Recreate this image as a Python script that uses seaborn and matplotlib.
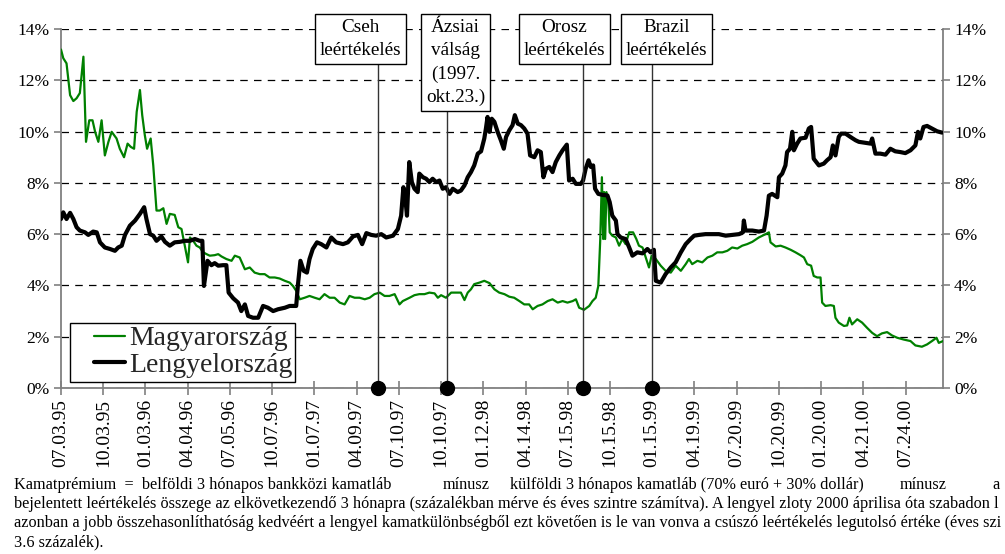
import matplotlib
matplotlib.use("Agg")
import matplotlib.pyplot as plt
from matplotlib.lines import Line2D
from matplotlib.legend_handler import HandlerLine2D
import seaborn as sns
import pandas as pd

# ---------------- data ----------------
tick_labels = ["07.03.95", "10.03.95", "01.03.96", "04.04.96", "07.05.96", "10.07.96",
               "01.07.97", "04.09.97", "07.10.97", "10.10.97", "01.12.98", "04.14.98",
               "07.15.98", "10.15.98", "01.15.99", "04.19.99", "07.20.99", "10.20.99",
               "01.20.00", "04.21.00", "07.24.00"]
weeks_per_tick = 13
last_week = 271.5

# Hungary (weeks since 07.03.95, % premium)
hu_week = [0, 0.7, 1.7, 2.8, 3.8, 4.8, 5.8, 6.9, 7.7, 8.7, 9.7, 10.5, 11.5, 12.5, 13.5, 14.6,
           15.6, 17.1, 18.1, 19.4, 20.5, 21.5, 22.5, 23.3, 24.3, 25.0, 25.8, 26.5, 27.6, 28.4,
           29.4, 30.4, 31.5, 32.5, 33.5, 35.0, 36.1, 37.1, 38.1, 39.1, 39.7, 40.7, 41.7, 42.7,
           43.8, 44.8, 45.8, 47.3, 48.4, 49.4, 50.9, 52.5, 53.5, 55.0, 56.6, 58.1, 59.6, 61.2,
           62.7, 64.2, 65.8, 67.3, 68.9, 70.4, 71.4, 72.4, 73.5, 75.0, 76.5, 78.1, 79.6, 81.1,
           82.7, 84.2, 85.8, 87.3, 88.8, 90.4, 91.9, 93.5, 95.0, 96.5, 98.1, 99.6, 101.1, 102.7,
           104.2, 105.2, 107.3, 108.8, 110.3, 111.9, 113.4, 115.0, 116.0, 117.0, 118.5, 120.1,
           121.6, 123.1, 124.2, 125.2, 126.2, 127.2, 128.8, 130.3, 131.9, 133.4, 134.9, 136.5,
           138.0, 139.5, 141.1, 142.6, 144.1, 145.2, 146.7, 148.2, 149.8, 151.3, 152.9, 154.4,
           155.9, 157.5, 158.5, 159.5, 161.0, 162.6, 163.6, 164.6, 165.4, 166.0, 166.5, 166.9,
           167.2, 167.5, 167.9, 168.5, 168.9, 169.7, 170.8, 171.8, 172.8, 173.8, 174.9, 176.1,
           177.1, 177.9, 179.0, 180.0, 181.0, 181.8, 183.1, 184.6, 186.1, 187.7, 189.2, 190.8,
           192.3, 193.3, 194.3, 195.9, 197.4, 199.0, 200.5, 202.0, 203.6, 205.1, 206.6, 208.2,
           209.7, 211.2, 212.8, 214.8, 216.9, 217.9, 218.4, 220.0, 221.5, 223.0, 224.6, 226.1,
           227.6, 228.7, 229.7, 230.9, 231.7, 232.8, 233.8, 234.3, 235.3, 236.9, 237.9, 238.4,
           239.4, 241.0, 242.0, 242.7, 243.5, 245.1, 246.6, 248.1, 249.7, 251.2, 252.7, 254.3,
           255.8, 257.4, 259.4, 261.5, 263.0, 265.0, 266.6, 268.1, 269.5, 270.2, 271.5]
hu_value = [13.2, 12.86, 12.66, 11.42, 11.19, 11.3, 11.5, 12.92, 9.6, 10.44, 10.44, 9.99, 9.6,
            10.44, 9.07, 9.6, 9.99, 9.73, 9.33, 9.0, 9.53, 9.4, 9.33, 10.77, 11.62, 10.64, 9.86,
            9.33, 9.73, 8.68, 6.92, 6.92, 7.01, 6.4, 6.79, 6.75, 6.27, 6.2, 5.55, 4.9, 5.87, 5.74,
            5.55, 5.48, 5.29, 5.22, 5.16, 5.18, 5.22, 5.13, 5.03, 4.96, 5.16, 5.09, 4.63, 4.70,
            4.50, 4.44, 4.44, 4.31, 4.31, 4.27, 4.18, 4.11, 3.98, 3.79, 3.46, 3.52, 3.59, 3.52,
            3.46, 3.66, 3.52, 3.52, 3.33, 3.26, 3.59, 3.52, 3.52, 3.46, 3.52, 3.66, 3.72, 3.59,
            3.59, 3.66, 3.26, 3.39, 3.52, 3.62, 3.66, 3.66, 3.72, 3.69, 3.52, 3.62, 3.52, 3.72,
            3.72, 3.72, 3.43, 3.72, 3.85, 4.05, 4.11, 4.18, 4.09, 3.85, 3.72, 3.66, 3.56, 3.52,
            3.39, 3.26, 3.26, 3.07, 3.2, 3.26, 3.39, 3.46, 3.33, 3.39, 3.33, 3.39, 3.46, 3.13,
            3.05, 3.2, 3.39, 3.52, 3.98, 5.81, 8.22, 5.81, 7.64, 5.81, 7.64, 7.25, 6.07, 5.94,
            5.87, 5.55, 5.81, 5.61, 6.07, 6.07, 5.81, 5.55, 5.48, 5.09, 4.70, 5.16, 5.03, 4.77,
            4.57, 4.50, 4.77, 4.57, 4.83, 5.03, 4.83, 4.96, 4.90, 5.09, 5.16, 5.29, 5.29, 5.35,
            5.48, 5.44, 5.55, 5.61, 5.70, 5.87, 6.0, 6.07, 5.68, 5.52, 5.55, 5.48, 5.39, 5.29,
            5.18, 5.09, 4.83, 4.77, 4.37, 4.31, 4.31, 3.33, 3.2, 3.23, 3.2, 2.74, 2.55, 2.42,
            2.44, 2.74, 2.48, 2.68, 2.55, 2.35, 2.15, 2.02, 2.13, 2.18, 2.05, 1.96, 1.89, 1.83,
            1.66, 1.61, 1.70, 1.83, 1.96, 1.76, 1.83]

# Poland
pl_week = [0, 0.7, 1.7, 2.8, 3.8, 4.8, 5.8, 7.4, 8.4, 9.9, 11.0, 12.0, 13.5, 15.1, 16.6, 17.6,
           18.7, 19.7, 21.2, 22.8, 24.3, 25.6, 26.3, 27.4, 28.4, 29.4, 30.9, 32.0, 33.5, 35.0,
           36.6, 38.1, 39.7, 41.2, 42.7, 43.5, 44.0, 45.1, 46.3, 47.3, 48.4, 49.9, 50.9, 51.6,
           53.0, 54.5, 55.5, 56.6, 57.6, 59.1, 60.7, 62.2, 63.7, 65.3, 66.8, 68.9, 70.4, 72.4,
           72.9, 73.7, 74.7, 75.7, 76.5, 77.5, 78.8, 80.1, 81.7, 83.2, 84.7, 86.8, 88.3, 89.9,
           91.4, 92.7, 94.0, 95.5, 97.0, 98.6, 100.1, 102.2, 103.7, 104.7, 105.4, 106.0, 106.5,
           107.2, 108.0, 108.8, 109.8, 110.3, 111.4, 112.4, 113.4, 114.4, 115.5, 116.5, 117.5,
           118.5, 119.6, 120.6, 122.1, 123.1, 124.2, 125.2, 126.2, 127.2, 128.3, 129.3, 130.3,
           130.8, 131.3, 131.9, 132.6, 133.4, 134.4, 135.4, 136.3, 137.0, 138.0, 139.0, 139.7,
           140.6, 141.6, 142.6, 143.6, 144.4, 145.7, 146.7, 147.7, 148.5, 149.3, 150.3, 151.3,
           152.3, 153.4, 154.4, 155.7, 156.4, 157.5, 158.5, 160.0, 160.7, 161.5, 162.4, 163.1,
           163.8, 164.4, 165.4, 166.7, 168.2, 168.9, 169.7, 170.8, 171.3, 172.3, 173.8, 174.9,
           175.9, 177.4, 179.0, 180.5, 181.5, 182.5, 183.1, 184.6, 186.1, 187.7, 189.2, 190.8,
           192.3, 193.8, 194.9, 196.4, 198.4, 200.5, 202.5, 204.6, 206.6, 208.7, 209.9, 210.2,
           210.7, 212.8, 214.8, 216.4, 217.2, 217.9, 218.9, 220.5, 221.0, 222.0, 223.0, 223.5,
           224.4, 225.1, 225.6, 226.6, 227.6, 229.2, 230.2, 230.9, 231.7, 233.3, 234.8, 235.8,
           236.9, 237.6, 238.4, 239.4, 240.1, 241.5, 243.0, 244.6, 245.6, 247.1, 249.2, 249.7,
           250.7, 252.2, 253.8, 255.3, 256.8, 258.4, 259.9, 261.5, 263.0, 263.8, 264.5, 265.5,
           266.6, 268.1, 269.7, 271.2]
pl_value = [6.59, 6.85, 6.59, 6.83, 6.59, 6.27, 6.14, 6.07, 5.97, 6.10, 6.07, 5.68, 5.48, 5.42,
            5.35, 5.48, 5.55, 5.97, 6.33, 6.53, 6.79, 7.05, 6.59, 6.0, 5.94, 5.74, 5.91, 5.70,
            5.55, 5.68, 5.70, 5.74, 5.74, 5.81, 5.74, 5.74, 3.98, 4.96, 4.79, 4.87, 4.77, 4.79,
            4.79, 3.72, 3.5, 3.33, 3.0, 3.26, 2.81, 2.74, 2.74, 3.2, 3.13, 3.0, 3.07, 3.13, 3.2,
            3.2, 3.98, 4.96, 4.57, 4.5, 5.03, 5.42, 5.68, 5.61, 5.48, 5.87, 5.68, 5.61, 5.68,
            5.91, 5.97, 5.61, 6.04, 5.97, 5.94, 6.0, 5.87, 5.94, 6.2, 6.72, 7.83, 7.38, 6.72,
            8.81, 8.03, 7.77, 7.64, 8.36, 8.22, 8.16, 8.03, 8.16, 8.03, 8.09, 7.77, 7.83, 7.57,
            7.77, 7.64, 7.70, 7.9, 8.22, 8.42, 8.68, 9.14, 9.23, 9.73, 10.12, 10.57, 9.99, 10.5,
            10.38, 9.99, 9.66, 9.33, 9.79, 10.05, 10.25, 10.64, 10.31, 10.25, 10.12, 9.92, 9.07,
            9.0, 9.27, 9.2, 8.22, 8.55, 8.62, 8.42, 8.81, 9.07, 9.27, 9.49, 8.09, 8.16, 7.96,
            7.96, 8.09, 8.55, 8.88, 8.62, 8.68, 7.77, 7.57, 7.53, 7.51, 7.25, 6.72, 6.53, 6.0,
            5.87, 5.81, 5.48, 5.16, 5.29, 5.25, 5.42, 5.29, 5.39, 4.18, 4.11, 4.44, 4.70, 4.90,
            5.29, 5.61, 5.81, 5.94, 5.97, 6.0, 6.0, 6.0, 5.94, 5.97, 6.0, 6.07, 6.53, 6.14,
            6.14, 6.10, 6.14, 6.72, 7.5, 7.57, 7.44, 8.22, 8.36, 8.68, 9.2, 9.33, 9.99, 9.27,
            9.53, 9.73, 9.76, 10.12, 10.18, 8.94, 8.68, 8.75, 8.88, 9.0, 9.46, 9.07, 9.79, 9.92,
            9.92, 9.79, 9.66, 9.6, 9.57, 9.53, 9.73, 9.14, 9.14, 9.1, 9.33, 9.23, 9.2, 9.16,
            9.27, 9.46, 9.99, 9.73, 10.18, 10.22, 10.12, 10.01, 9.96]

series_names = ["Magyarország", "Lengyelország"]

event_labels = ["Cseh\nleértékelés", "Ázsiai\nválság\n(1997.\nokt.23.)",
                "Orosz\nleértékelés", "Brazil\nleértékelés"]
event_week = [97.7, 118.9, 160.7, 181.8]
event_box_offset = [-5.6, 2.5, -5.8, 4.6]   # label box centre relative to event (weeks)

note_line1 = ["Kamatprémium  =  belföldi 3 hónapos bankközi kamatláb", "mínusz",
              "külföldi 3 hónapos kamatláb (70% euró + 30% dollár)", "mínusz", "a"]
note_line1_x = [14, 443, 510, 900, 992]
note_lines = [
    "bejelentett leértékelés összege az elkövetkezendő 3 hónapra (százalékban mérve és éves szintre számítva). A lengyel zloty 2000 áprilisa óta szabadon l",
    "azonban a jobb összehasonlíthatóság kedvéért a lengyel kamatkülönbségből ezt követően is le van vonva a csúszó leértékelés legutolsó értéke (éves szi",
    "3.6 százalék).",
]

# ---------------- style ----------------
sns.set_theme(style="white")
plt.rcParams["font.family"] = ["Liberation Serif", "DejaVu Serif"]

W, H = 1005, 554
fig = plt.figure(figsize=(W / 100, H / 100), dpi=100)
ax = fig.add_axes([61 / W, 1 - 388 / H, 882 / W, 359 / H])

green = "#008000"
hu_df = pd.DataFrame({"week": hu_week, "value": hu_value})
pl_df = pd.DataFrame({"week": pl_week, "value": pl_value})
sns.lineplot(data=hu_df, x="week", y="value", ax=ax, color=green, linewidth=1.6,
             estimator=None, sort=False, zorder=3)
sns.lineplot(data=pl_df, x="week", y="value", ax=ax, color="black", linewidth=3.0,
             estimator=None, sort=False, zorder=4)

ax.set_xlim(0, last_week)
ax.set_ylim(0, 14)
ax.set_xlabel("")
ax.set_ylabel("")

# grid
ax.set_yticks(range(0, 15, 2))
ax.set_yticklabels([f"{v}%" for v in range(0, 15, 2)])
ax.yaxis.grid(True, color="black", linestyle=(0, (6, 5)), linewidth=0.9)
ax.xaxis.grid(False)
ax.set_axisbelow(True)

ax.set_xticks([i * weeks_per_tick for i in range(len(tick_labels))])
ax.set_xticklabels(tick_labels, rotation=90, ha="center", va="top")

for s in ["left", "right", "bottom"]:
    ax.spines[s].set_visible(True)
    ax.spines[s].set_color("#808080")
    ax.spines[s].set_linewidth(1.3)
ax.spines["top"].set_visible(False)

ax.tick_params(axis="y", which="both", left=True, right=True, labelleft=True,
               labelright=True, direction="out", length=5, width=1.2, color="#808080",
               labelsize=12.5, pad=3, labelcolor="black")
ax.tick_params(axis="x", bottom=True, direction="inout", length=10, width=1.2,
               color="#808080", labelsize=14, pad=3, labelcolor="black")

# events
for lab, w, off in zip(event_labels, event_week, event_box_offset):
    ax.plot([w, w], [0, 14.4], color="#333333", linewidth=1.0, clip_on=False, zorder=5)
    ax.plot([w], [0], marker="o", markersize=10, color="black", clip_on=False, zorder=7)
    ax.text(w + off, 14.39, lab, ha="center", va="top", fontsize=13.8, linespacing=1.47,
            color="black", zorder=8, clip_on=False,
            bbox=dict(boxstyle="square,pad=0.25", fc="white", ec="black", lw=1.0))

# legend
handles = [Line2D([], [], color=green, linewidth=1.6),
           Line2D([], [], color="black", linewidth=3.0)]
leg = ax.legend(handles, series_names, loc="lower left", bbox_to_anchor=(0.01, 0.018),
                fontsize=20, frameon=True, fancybox=False, framealpha=1, edgecolor="black",
                handlelength=1.85, handletextpad=0.15, borderpad=0.12, labelspacing=0.05,
                borderaxespad=0, handler_map={Line2D: HandlerLine2D(xpad=0.75)})
leg.get_frame().set_linewidth(1.0)

# footnote
fs_note = 11.72
y1 = 1 - 485 / H
for txt, xp in zip(note_line1, note_line1_x):
    fig.text(xp / W, y1, txt, fontsize=fs_note, va="center", ha="left", color="black")
for i, txt in enumerate(note_lines):
    fig.text(14 / W, 1 - (504 + 19 * i) / H, txt, fontsize=fs_note, va="center", ha="left",
             color="black")

fig.savefig("out.png", dpi=100)
